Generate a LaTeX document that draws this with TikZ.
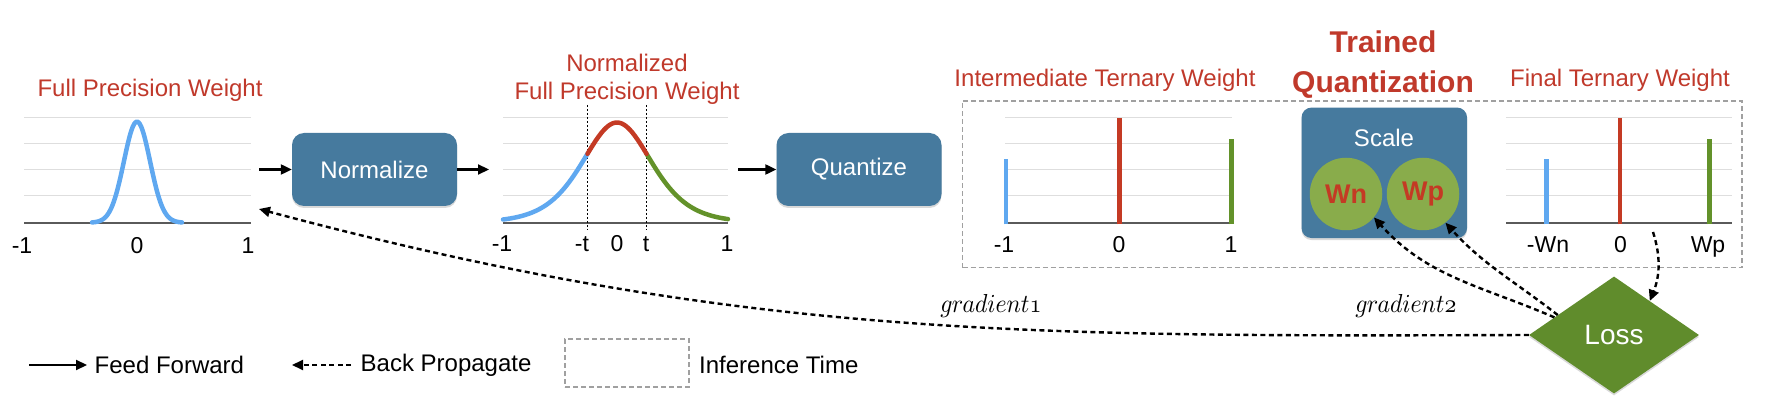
\documentclass[tikz,border=0pt]{standalone}
\usepackage{fontspec}
\setmainfont{Liberation Sans}
\usetikzlibrary{arrows.meta,shapes.geometric,shadows,calc}
\definecolor{tred}{RGB}{192,57,43}
\definecolor{boxblue}{RGB}{70,122,158}
\definecolor{lossgreen}{RGB}{96,140,44}
\definecolor{circgreen}{RGB}{137,172,75}
\definecolor{cblue}{RGB}{95,168,240}
\definecolor{cred}{RGB}{196,58,36}
\definecolor{cgreen}{RGB}{99,146,42}
\definecolor{gridgray}{RGB}{222,222,222}
\definecolor{axisgray}{RGB}{90,90,90}
\definecolor{dashgray}{RGB}{160,160,160}
\newcommand\chartgrid[2]{%
  \foreach \yy in {117.7,143.3,169.7,195.7} {\draw[gridl] (#1,\yy) -- (#2,\yy);}
  \draw[axisl] (#1,222.7) -- (#2,222.7);}
\newcommand\gradtext[1]{\scalebox{2.38}[2.6]{\fontsize{10}{12}\usefont{OML}{lmm}{m}{it}#1}}
\begin{document}
\begin{tikzpicture}[x=1pt,y=-1pt,
 title/.style={text=tred, font=\fontsize{24}{28}\selectfont, inner sep=0pt, align=center},
 tick/.style={font=\fontsize{23}{26}\selectfont, inner sep=0pt, text height=0.716em, text depth=0pt},
 proc/.style={rectangle, rounded corners=12pt, fill=boxblue, text=white, font=\fontsize{24}{28}\selectfont, minimum width=165pt, minimum height=73pt, inner sep=0pt, drop shadow={opacity=0.3, shadow xshift=0pt, shadow yshift=-2pt}},
 ff/.style={line width=2.2pt, -{Triangle[length=11pt,width=10pt]}},
 bp/.style={line width=2.4pt, dash pattern=on 5pt off 3.5pt, -{Triangle[length=11pt,width=10pt]}},
 gridl/.style={gridgray, line width=1.5pt},
 axisl/.style={axisgray, line width=2pt},
 bar/.style={line width=4.5pt},
 curve/.style={line width=4.5pt, line cap=round},
 vdot/.style={black, line width=1pt, dash pattern=on 2pt off 2pt},
 dbox/.style={draw=dashgray, line width=1.8pt, dash pattern=on 5pt off 3pt, inner sep=0pt},
 legtext/.style={font=\fontsize{24}{28}\selectfont, inner sep=0pt, anchor=west},
 grad/.style={inner sep=0pt},
]
\useasboundingbox (0,0) rectangle (1780,414);

% ---------- chart 1
\chartgrid{24}{251}
\draw[curve, cblue] plot[domain=-45:45, samples=80] ({137+\x},{222.7-101*exp(-(\x*\x)/343.2)});
\node[title] (ttl1) at (150,90) {Full Precision Weight};
\node[tick] (t1a) at (22,250) {-1};
\node[tick] (t1b) at (137,250) {0};
\node[tick] (t1c) at (248,250) {1};

% ---------- chart 2
\chartgrid{503}{728}
\draw[vdot] (587.7,105) -- (587.7,230);
\draw[vdot] (646.7,105) -- (646.7,230);
\draw[curve, cblue] plot[domain=-114:-29.5, samples=60] ({617+\x},{222.5-400/((exp(\x/46.7)+exp(-\x/46.7))^2)});
\draw[curve, cgreen] plot[domain=29.5:111, samples=60] ({617+\x},{222.5-400/((exp(\x/46.7)+exp(-\x/46.7))^2)});
\draw[curve, cred] plot[domain=-29.5:29.5, samples=40] ({617+\x},{222.5-400/((exp(\x/46.7)+exp(-\x/46.7))^2)});
\node[title] (ttl2) at (627,79) {Normalized\\Full Precision Weight};
\node[tick] (t2a) at (502,248) {-1};
\node[tick] (t2b) at (582,248) {-t};
\node[tick] (t2c) at (617,248) {0};
\node[tick] (t2d) at (646,248) {t};
\node[tick] (t2e) at (727,248) {1};

% ---------- chart 3
\chartgrid{1005}{1232}
\draw[bar, cblue] (1006,224.5) -- (1006,159.5);
\draw[bar, cred] (1119.4,224.5) -- (1119.4,117.7);
\draw[bar, cgreen] (1231.7,224.5) -- (1231.7,139);
\node[title] (ttl3) at (1105,80) {Intermediate Ternary Weight};
\node[tick] (t3a) at (1004,249) {-1};
\node[tick] (t3b) at (1119,249) {0};
\node[tick] (t3c) at (1231,249) {1};

% ---------- chart 4
\chartgrid{1506}{1732}
\draw[bar, cblue] (1546.7,224.5) -- (1546.7,159.5);
\draw[bar, cred] (1620,224.5) -- (1620,117.7);
\draw[bar, cgreen] (1709.3,224.5) -- (1709.3,139);
\node[title] (ttl5) at (1620,80) {Final Ternary Weight};
\node[tick] (t4a) at (1548,249) {-Wn};
\node[tick] (t4b) at (1620.5,249) {0};
\node[tick] (t4c) at (1708,249) {Wp};

% ---------- trained quantization
\node[title, font=\bfseries\fontsize{30}{40}\selectfont] (ttl4) at (1383,65) {Trained\\Quantization};
\node[dbox, minimum width=779.5pt, minimum height=166.5pt] (inf) at (1352.25,184.25) {};
\node[proc, minimum width=165.5pt, minimum height=130.5pt, rounded corners=10pt] (scale) at (1384.3,172.8) {};
\node[text=white, font=\fontsize{24}{28}\selectfont, inner sep=0pt] (scaletxt) at (1384,138) {Scale};
\node[circle, fill=circgreen, minimum size=72.5pt, inner sep=0pt, text=cred, font=\bfseries\fontsize{27}{30}\selectfont] (wn) at (1346,194) {Wn};
\node[circle, fill=circgreen, minimum size=72.5pt, inner sep=0pt, text=cred, font=\bfseries\fontsize{27}{30}\selectfont] (wp) at (1423,194) {Wp};

% ---------- process boxes
\node[proc] (norm) at (374.5,169.5) {Normalize};
\node[proc] (quant) at (859,169.5) {Quantize};
\node[diamond, fill=lossgreen, minimum width=170pt, minimum height=117pt, inner sep=0pt, text=white, font=\fontsize{28}{32}\selectfont, drop shadow={opacity=0.3, shadow xshift=0pt, shadow yshift=-2pt}] (loss) at (1614,335) {Loss};

% ---------- feed forward
\coordinate (a1) at (259,169.5);
\coordinate (a2) at (489,169.5);
\coordinate (a3) at (738,169.5);
\draw[ff] (a1) -- (norm.west);
\draw[ff] (norm.east) -- (a2);
\draw[ff] (a3) -- (quant.west);

% ---------- back propagation
\coordinate (g1end) at (259,209);
\draw[bp] (loss.west) .. controls ($(loss.west)+(-500,1.5)$) and ($(g1end)+(483,129.5)$) .. (g1end);
\coordinate (sA) at ($(loss.west)!0.30!(loss.north)$);
\coordinate (sB) at ($(loss.west)!0.34!(loss.north)$);
\draw[bp] (sA) .. controls ($(sA)+(-74,-32)$) and ($(wn.-40)+(54,60)$) .. (wn.-40);
\draw[bp] (sB) .. controls ($(sB)+(-45,-35)$) and ($(wp.-52)+(38,42)$) .. (wp.-52);
\coordinate (fstart) at (1653,232);
\coordinate (fend) at ($(loss.north)!0.42!(loss.east)$);
\draw[bp] (fstart) .. controls ($(fstart)+(8,25)$) and ($(fend)+(10,-25)$) .. (fend);
\node[grad] (gr1) at (991,306) {\gradtext{gradient1}};
\node[grad] (gr2) at (1406,306) {\gradtext{gradient2}};

% ---------- legend
\coordinate (lf1) at (29,365);
\coordinate (lf2) at (87,365);
\draw[ff] (lf1) -- (lf2);
\node[legtext] (lff) at (94.5,365) {Feed Forward};
\coordinate (lb1) at (351,365);
\coordinate (lb2) at (292,365);
\draw[bp, line width=2pt] (lb1) -- (lb2);
\node[legtext] (lbp) at (360.5,365) {Back Propagate};
\node[dbox, minimum width=124pt, minimum height=48pt] (lbox) at (627,363) {};
\node[legtext] (linf) at (699,365) {Inference Time};
\end{tikzpicture}
\end{document}
